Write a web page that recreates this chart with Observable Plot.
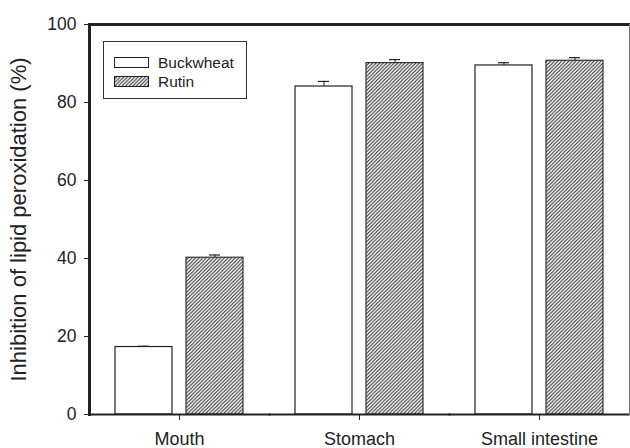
<!DOCTYPE html>
<html>
<head>
<meta charset="utf-8">
<script src="https://cdn.jsdelivr.net/npm/d3@7"></script>
<script src="https://cdn.jsdelivr.net/npm/@observablehq/plot@0.6"></script>
<style>
  html, body { margin: 0; padding: 0; background: white; }
  #wrap { position: relative; width: 630px; height: 448px; overflow: hidden; }
  #legend { position: absolute; left: 103px; top: 41px; width: 144px; height: 58px;
            border: 1px solid #333; background: white; box-sizing: border-box;
            font-family: "Liberation Sans", Arial, sans-serif; font-size: 15.5px; color: #222; }
  .item { position: absolute; left: 10px; display: flex; align-items: center; }
  .item svg { margin-right: 8px; }
</style>
</head>
<body>
<svg width="0" height="0" style="position:absolute">
  <defs>
    <pattern id="hatch" patternUnits="userSpaceOnUse" width="3.6" height="3.6">
      <rect width="3.6" height="3.6" fill="white"/>
      <path d="M-0.9,0.9 l1.8,-1.8 M0,3.6 l3.6,-3.6 M2.7,4.5 l1.8,-1.8" stroke="#2a2a2a" stroke-width="1.1"/>
    </pattern>
  </defs>
</svg>
<div id="wrap">
  <div id="chart"></div>
  <div id="legend"></div>
</div>
<script>
const categories = ["Mouth", "Stomach", "Small intestine"];
const series = ["Buckwheat", "Rutin"];
const buckwheat = [17.3, 84.1, 89.5];
const buckwheatErr = [0.2, 1.3, 0.7];
const rutin = [40.2, 90.1, 90.7];
const rutinErr = [0.7, 0.9, 0.8];
const yTicks = [0, 20, 40, 60, 80, 100];

const rows = [];
categories.forEach((c, i) => {
  rows.push({group: c, series: series[0], value: buckwheat[i], err: buckwheatErr[i]});
  rows.push({group: c, series: series[1], value: rutin[i], err: rutinErr[i]});
});
const fills = {Buckwheat: "white", Rutin: "url(#hatch)"};

const chart = Plot.plot({
  width: 630,
  height: 448,
  marginLeft: 89,
  marginTop: 24,
  marginRight: 1,
  marginBottom: 34,
  style: {fontFamily: "'Liberation Sans', Arial, sans-serif", fontSize: "17px", color: "#222", background: "white"},
  fx: {domain: categories, padding: 0, label: null},
  x: {domain: series, paddingInner: 0.1955, paddingOuter: 0.359, axis: null},
  y: {domain: [0, 100]},
  marks: [
    Plot.barY(rows.filter(d => d.series === "Buckwheat"), {fx: "group", x: "series", y: "value", fill: fills.Buckwheat, stroke: "#222", strokeWidth: 1.2}),
    Plot.barY(rows.filter(d => d.series === "Rutin"), {fx: "group", x: "series", y: "value", fill: fills.Rutin, stroke: "#333", strokeWidth: 1.2}),
    Plot.ruleX(rows, {fx: "group", x: "series", y1: "value", y2: d => d.value + d.err, stroke: "#222", strokeWidth: 1}),
    Plot.tickY(rows, {fx: "group", x: "series", y: d => d.value + d.err, insetLeft: 23, insetRight: 23, stroke: "#222", strokeWidth: 1.2}),
    Plot.frame({anchor: "top", stroke: "#222", strokeWidth: 3}),
    Plot.frame({anchor: "bottom", stroke: "#222", strokeWidth: 2}),
    Plot.frame({anchor: "left", facetAnchor: "left", stroke: "#222", strokeWidth: 3}),
    Plot.frame({anchor: "right", facetAnchor: "right", stroke: "#777", strokeWidth: 1}),
    Plot.axisY({ticks: yTicks, tickSize: 5, tickPadding: 8, fontSize: 17.5,
      label: "Inhibition of lipid peroxidation (%)", labelAnchor: "center", labelArrow: "none", labelOffset: 79}),
    Plot.axisFx({anchor: "bottom", tickSize: 6, tickPadding: 12, fontSize: 18, label: null})
  ]
});
document.getElementById("chart").appendChild(chart);

// style the y-axis label
chart.querySelectorAll("[aria-label='y-axis label'] text").forEach(t => t.style.fontSize = "22px");

// legend
const legend = document.getElementById("legend");
series.forEach((s, i) => {
  const item = document.createElement("div");
  item.className = "item";
  item.style.top = (12 + i * 19) + "px";
  item.innerHTML = `<svg width="36" height="12"><rect x="0.5" y="0.5" width="34" height="10" fill="${fills[s]}" stroke="#222" stroke-width="1"/></svg><span>${s}</span>`;
  legend.appendChild(item);
});
</script>
</body>
</html>
